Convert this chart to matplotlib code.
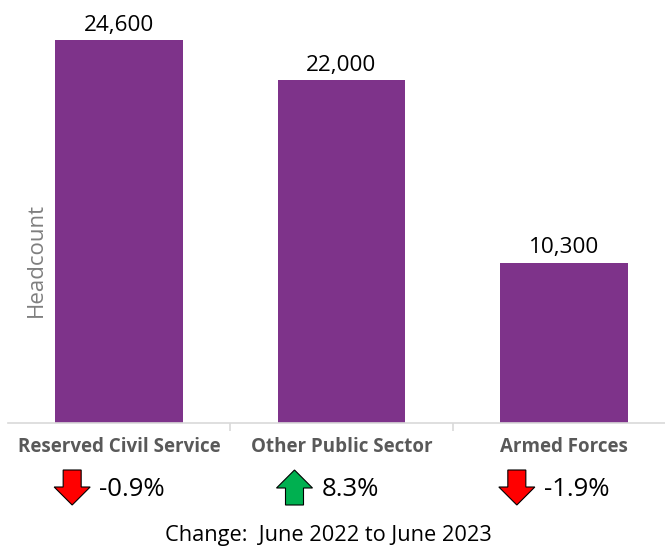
import matplotlib
matplotlib.use("Agg")
import matplotlib.pyplot as plt
from matplotlib.patches import Polygon
from matplotlib.transforms import Affine2D

categories = ["Reserved Civil Service", "Other Public Sector", "Armed Forces"]
headcount = [24600, 22000, 10300]
changes = [-0.9, 8.3, -1.9]
footer = "Change:  June 2022 to June 2023"

W, H = 665, 548
plt.rcParams['font.family'] = ['Open Sans', 'DejaVu Sans']
fig = plt.figure(figsize=(W / 100, H / 100), dpi=100)
ax = fig.add_axes([8 / W, (H - 423) / H, 667 / W, 423 / H])

bar_color = "#7E338A"
x = list(range(len(categories)))
ax.bar(x, headcount, width=0.575, color=bar_color)
ax.set_xlim(-0.5, 2.5)
ax.set_ylim(0, 27170)

for xi, v in zip(x, headcount):
    ax.annotate(f"{v:,}", (xi, v), xytext=(0, 3), textcoords="offset points",
                ha="center", va="bottom", fontsize=16.2, color="#000000")

for s in ["top", "right", "left"]:
    ax.spines[s].set_visible(False)
ax.spines["bottom"].set_color("#D9D9D9")
ax.spines["bottom"].set_linewidth(1.2)
ax.set_yticks([])
ax.set_xticks(x)
ax.set_xticklabels([])
ax.tick_params(axis="x", which="major", length=0)
ax.set_xticks([0.5, 1.5], minor=True)
ax.tick_params(axis="x", which="minor", length=6, color="#D9D9D9", width=1.2)

ax.set_ylabel("Headcount", fontsize=16, color="#7F7F7F")
ax.yaxis.set_label_coords((47 - 8) / 667, 0.385)

# pixel transform (origin top-left)
pix = Affine2D().scale(1 / W, -1 / H).translate(0, 1) + fig.transFigure

fig.canvas.draw()
for xi, cat, ch in zip(x, categories, changes):
    cx = ax.transData.transform((xi, 0))[0]
    fig.text(cx / W, 1 - 447 / H, cat, ha="center", va="center",
             fontsize=13.5, fontweight="bold", color="#595959")
    ax_x = cx - 47
    top, mid, bot = 470, 487, 505
    sw, hw = 9, 18
    if ch < 0:
        pts = [(ax_x - sw, top), (ax_x + sw, top), (ax_x + sw, mid), (ax_x + hw, mid),
               (ax_x, bot), (ax_x - hw, mid), (ax_x - sw, mid)]
        col = "#FF0000"
    else:
        mid2 = top + (bot - mid)
        pts = [(ax_x - sw, bot), (ax_x + sw, bot), (ax_x + sw, mid2), (ax_x + hw, mid2),
               (ax_x, top), (ax_x - hw, mid2), (ax_x - sw, mid2)]
        col = "#00B050"
    fig.patches.append(Polygon(pts, closed=True, facecolor=col, edgecolor="#000000",
                               linewidth=0.8, transform=pix, figure=fig))
    fig.text((ax_x + 27) / W, 1 - 489 / H, f"{ch:.1f}%", ha="left", va="center",
             fontsize=18.5, color="#000000")

fig.text(328 / W, 1 - 535 / H, footer, ha="center", va="center",
         fontsize=15.7, color="#000000")

fig.savefig("out.png", dpi=100)
